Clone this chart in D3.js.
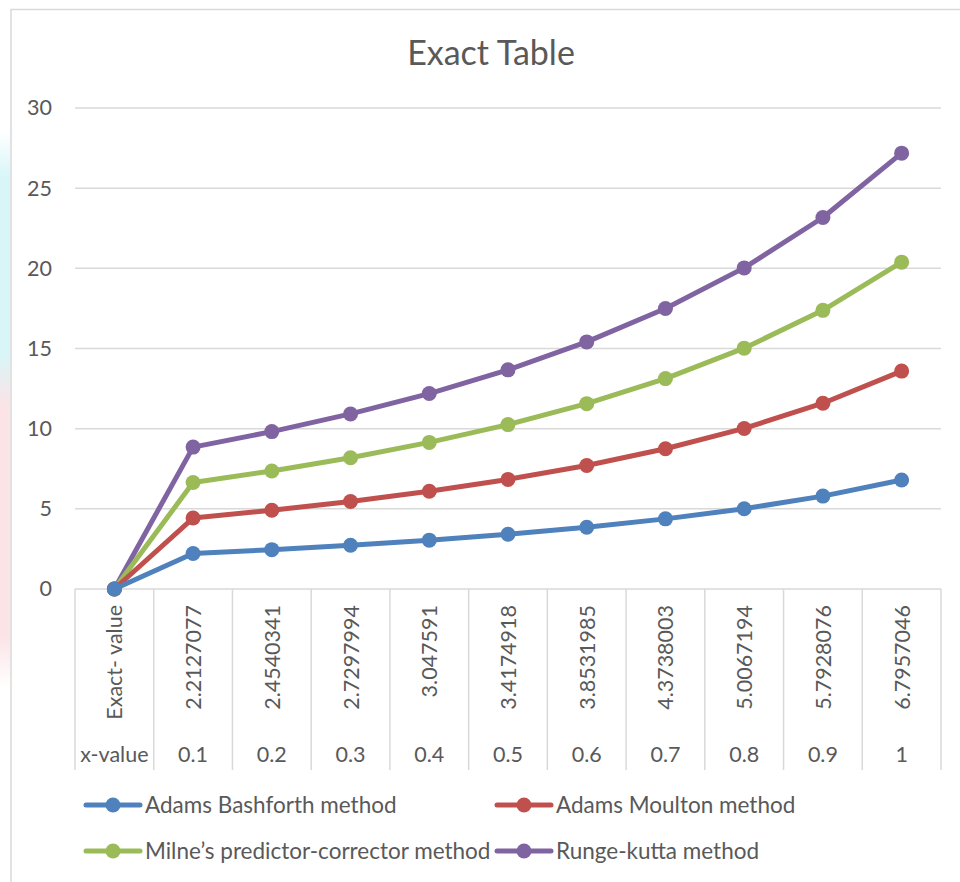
<!DOCTYPE html>
<html>
<head>
<meta charset="utf-8">
<script src="https://cdn.jsdelivr.net/npm/d3@7"></script>
<style>
  html, body { margin: 0; padding: 0; background: #ffffff; }
  svg { display: block; }
  text { font-family: Lato, "Open Sans", "Liberation Sans", sans-serif; fill: #595959; }
</style>
</head>
<body>
<svg id="chart" width="960" height="882"></svg>
<script>
// Category rows of the two-level axis
const xValues = ["x-value", "0.1", "0.2", "0.3", "0.4", "0.5", "0.6", "0.7", "0.8", "0.9", "1"];
const exactLabels = ["Exact- value", "2.2127077", "2.4540341", "2.7297994", "3.047591", "3.4174918",
  "3.8531985", "4.3738003", "5.0067194", "5.7928076", "6.7957046"];

// Series values (drawn stacked)
const adamsBashforth = [0, 2.2127077, 2.4540341, 2.7297994, 3.047591, 3.4174918, 3.8531985, 4.3738003, 5.0067194, 5.7928076, 6.7957046];
const adamsMoulton   = [0, 2.2127077, 2.4540341, 2.7297994, 3.047591, 3.4174918, 3.8531985, 4.3738003, 5.0067194, 5.7928076, 6.7957046];
const milne          = [0, 2.2127077, 2.4540341, 2.7297994, 3.047591, 3.4174918, 3.8531985, 4.3738003, 5.0067194, 5.7928076, 6.7957046];
const rungeKutta     = [0, 2.2127077, 2.4540341, 2.7297994, 3.047591, 3.4174918, 3.8531985, 4.3738003, 5.0067194, 5.7928076, 6.7957046];

const seriesNames = ["Adams Bashforth method", "Adams Moulton method", "Milne\u2019s predictor-corrector method", "Runge-kutta method"];
const seriesColors = ["#4f81bd", "#c0504d", "#9bbb59", "#8064a2"];
const yTicks = [0, 5, 10, 15, 20, 25, 30];

const svg = d3.select("#chart");
const gridColor = "#d9d9d9";
const labelSize = "21.5px";

// faint backdrop showing at the far left edge
const edge = svg.append("defs").append("linearGradient")
  .attr("id", "edgeGrad").attr("x1", 0).attr("y1", 0).attr("x2", 0).attr("y2", 1);
edge.append("stop").attr("offset", "0.15").attr("stop-color", "#ffffff");
edge.append("stop").attr("offset", "0.2").attr("stop-color", "#d8f6f8");
edge.append("stop").attr("offset", "0.4").attr("stop-color", "#d8f6f8");
edge.append("stop").attr("offset", "0.46").attr("stop-color", "#fbe3e6");
edge.append("stop").attr("offset", "0.72").attr("stop-color", "#fbe3e6");
edge.append("stop").attr("offset", "0.78").attr("stop-color", "#ffffff");
svg.append("rect").attr("x", 0).attr("y", 0).attr("width", 10).attr("height", 882)
  .attr("fill", "url(#edgeGrad)");

// chart frame
svg.append("path").attr("d", "M11,882V9.5H960")
  .attr("fill", "none").attr("stroke", gridColor).attr("stroke-width", 1.5);

// Title
svg.append("text").attr("x", 491).attr("y", 65).attr("text-anchor", "middle")
  .style("font-size", "34px").text("Exact Table");

// Scales
const x = d3.scaleBand().domain(xValues).range([75, 941]).padding(0);
const y = d3.scaleLinear().domain([0, 30]).range([589, 108]);
const cx = d => x(d) + x.bandwidth() / 2;

// Horizontal gridlines
svg.append("g").selectAll("line").data(yTicks).join("line")
  .attr("x1", 75).attr("x2", 941)
  .attr("y1", d => y(d)).attr("y2", d => y(d))
  .attr("stroke", gridColor).attr("stroke-width", 1.5);

// Y axis labels
const yAxis = d3.axisLeft(y).tickValues(yTicks).tickSize(0).tickPadding(0);
const gy = svg.append("g").attr("transform", "translate(52,0)").call(yAxis);
gy.select(".domain").remove();
gy.selectAll("text").style("font-size", labelSize).attr("fill", "#595959")
  .style("font-family", "Lato, 'Open Sans', sans-serif");

// Category table lines
const boundaries = xValues.map(d => x(d)).concat([x.range()[1]]);
svg.append("g").selectAll("line").data(boundaries).join("line")
  .attr("x1", d => d).attr("x2", d => d)
  .attr("y1", 589).attr("y2", 770)
  .attr("stroke", gridColor).attr("stroke-width", 1.5);

// rotated exact-value labels
svg.append("g").selectAll("text").data(exactLabels).join("text")
  .attr("transform", (d, i) => `translate(${cx(xValues[i]) + 8},605) rotate(-90)`)
  .attr("text-anchor", "end")
  .style("font-size", labelSize).text(d => d);

// x-value labels
svg.append("g").selectAll("text").data(xValues).join("text")
  .attr("x", d => cx(d)).attr("y", 762).attr("text-anchor", "middle")
  .style("font-size", labelSize).text(d => d);

// Stacked series
const rows = xValues.map((c, i) => ({
  cat: c, s0: adamsBashforth[i], s1: adamsMoulton[i], s2: milne[i], s3: rungeKutta[i]
}));
const stacked = d3.stack().keys(["s0", "s1", "s2", "s3"])(rows);

const line = d3.line().x(d => cx(d.data.cat)).y(d => y(d[1]));

// top series drawn first, lower ones over it
stacked.slice().reverse().forEach(layer => {
  const col = seriesColors[layer.index];
  const g = svg.append("g");
  g.append("path").datum(layer).attr("d", line)
    .attr("fill", "none").attr("stroke", col).attr("stroke-width", 5)
    .attr("stroke-linejoin", "round").attr("stroke-linecap", "round");
  g.selectAll("circle").data(layer).join("circle")
    .attr("cx", d => cx(d.data.cat)).attr("cy", d => y(d[1]))
    .attr("r", 7.5).attr("fill", col);
});

// Legend
const legendPos = [[86, 805], [497, 805], [86, 851], [497, 851]];
seriesNames.forEach((name, i) => {
  const [lx, ly] = legendPos[i];
  const g = svg.append("g").attr("transform", `translate(${lx},${ly})`);
  g.append("line").attr("x1", 0).attr("x2", 54).attr("y1", 0).attr("y2", 0)
    .attr("stroke", seriesColors[i]).attr("stroke-width", 5).attr("stroke-linecap", "round");
  g.append("circle").attr("cx", 27).attr("cy", 0).attr("r", 7.5).attr("fill", seriesColors[i]);
  g.append("text").attr("x", 59).attr("y", 8).style("font-size", "22.5px").text(name);
});
</script>
</body>
</html>
